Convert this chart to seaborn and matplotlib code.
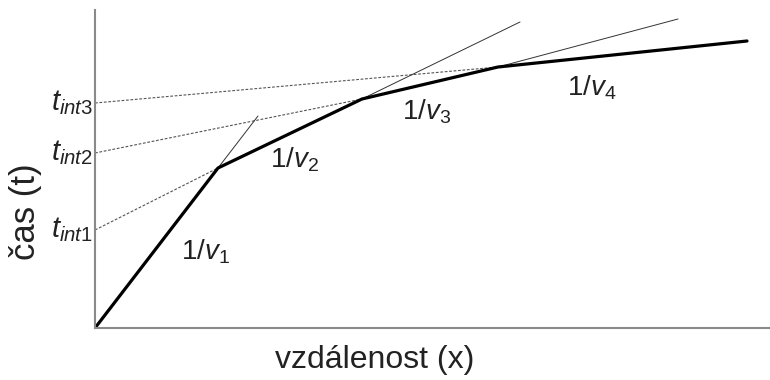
import matplotlib
matplotlib.use("Agg")
import matplotlib.pyplot as plt
import seaborn as sns
import pandas as pd

# Data (distance x, time t) in arbitrary units
break_x = [0, 123, 267, 403, 652]
break_t = [0, 160, 229, 261, 287]
intercepts = [98, 175, 225]          # t_int1, t_int2, t_int3
ext_x = [163, 425, 583]              # thin extension end points of segments 1-3
ext_t = [212, 306, 309]
seg_labels = ["1", "2", "3", "4"]
int_labels = ["int1", "int2", "int3"]
label_x = [110, 199, 332, 497]
label_t = [76, 168, 216, 240]

sns.set_theme(style="white")
plt.rcParams["font.family"] = ["Liberation Sans", "DejaVu Sans"]
plt.rcParams["mathtext.fontset"] = "custom"
plt.rcParams["mathtext.rm"] = "Liberation Sans"
plt.rcParams["mathtext.it"] = "Liberation Sans:italic"

fig = plt.figure(figsize=(7.7, 3.8), dpi=100)
ax = fig.add_axes([95 / 770, (380 - 328) / 380, (770 - 95) / 770, (328 - 10) / 380])

# Dashed back-extensions to the time axis
for i in range(3):
    df = pd.DataFrame({"x": [0, break_x[i + 1]], "t": [intercepts[i], break_t[i + 1]]})
    sns.lineplot(data=df, x="x", y="t", ax=ax, color="#555555", lw=0.8,
                 linestyle=(0, (2.5, 1.5)), sort=False)

# Thin forward extensions
for i in range(3):
    df = pd.DataFrame({"x": [break_x[i + 1], ext_x[i]], "t": [break_t[i + 1], ext_t[i]]})
    sns.lineplot(data=df, x="x", y="t", ax=ax, color="#333333", lw=0.7, sort=False)

# Thick travel-time curve
df = pd.DataFrame({"x": break_x, "t": break_t})
sns.lineplot(data=df, x="x", y="t", ax=ax, color="black", lw=2.3, sort=False)

ax.set_xlim(0, 675)
ax.set_ylim(0, 318)
ax.set_xticks([])
ax.set_yticks([])
for s in ["top", "right"]:
    ax.spines[s].set_visible(False)
for s in ["left", "bottom"]:
    ax.spines[s].set_color("#8a8a8a")
    ax.spines[s].set_linewidth(1.5)

for lx, lt, lab in zip(label_x, label_t, seg_labels):
    ax.text(lx, lt, "1/$\\mathit{v_{%s}}$" % lab, fontsize=20, color="#222222",
            ha="center", va="center")

for it, lab in zip(intercepts, int_labels):
    ax.text(-2, it, "$\\mathit{t_{%s}}$" % lab, fontsize=21, color="#222222",
            ha="right", va="center", clip_on=False)

ax.set_xlabel("vzdálenost (x)", fontsize=23, color="#222222")
ax.set_ylabel("čas (t)", fontsize=25, color="#222222")
ax.xaxis.set_label_coords(0.415, -0.055)
ax.yaxis.set_label_coords(-0.0785, 0.365)

fig.savefig("out.png", dpi=100)
